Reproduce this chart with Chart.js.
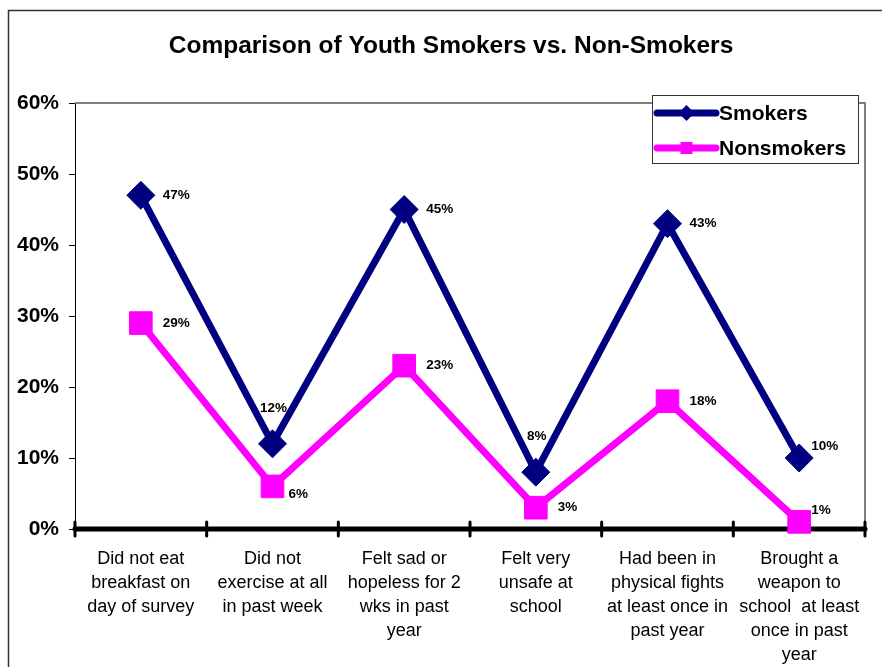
<!DOCTYPE html>
<html>
<head>
<meta charset="utf-8">
<script src="https://cdn.jsdelivr.net/npm/chart.js@4"></script>
<style>
  body { margin: 0; background: #fff; }
  canvas { display: block; }
</style>
</head>
<body>
<canvas id="smokeChart" width="882" height="667"></canvas>
<script>
const titleText = 'Comparison of Youth Smokers vs. Non-Smokers';
const categories = [
  ["Did not eat", "breakfast on", "day of survey"],
  ["Did not", "exercise at all", "in past week"],
  ["Felt sad or", "hopeless for 2", "wks in past", "year"],
  ["Felt very", "unsafe at", "school"],
  ["Had been in", "physical fights", "at least once in", "past year"],
  ["Brought a", "weapon to", "school  at least", "once in past", "year"]
];
const smokers = [47, 12, 45, 8, 43, 10];
const nonsmokers = [29, 6, 23, 3, 18, 1];
const yMin = 0, yMax = 60, yStep = 10;

// where each value label sits relative to its point
const smokerLabelPos = ["right", "above", "right", "above", "right", "upRight"];
const nonsmokerLabelPos = ["right", "downRight", "right", "right", "right", "upRight"];

const FONT = "Arial, 'Liberation Sans', sans-serif";

const framePlugin = {
  id: 'frame',
  beforeDraw(chart) {
    const ctx = chart.ctx;
    ctx.save();
    ctx.strokeStyle = '#333';
    ctx.lineWidth = 1.5;
    ctx.strokeRect(8.5, 10.5, chart.width + 20, chart.height + 20);
    // title
    ctx.fillStyle = '#000';
    ctx.font = 'bold 24.5px ' + FONT;
    ctx.textAlign = 'center';
    ctx.textBaseline = 'middle';
    ctx.fillText(titleText, chart.width / 2 + 10, 46);
    ctx.restore();
  },
  beforeDatasetsDraw(chart) {
    const ctx = chart.ctx;
    const a = chart.chartArea;
    ctx.save();
    // gray top + right edge of the plot
    ctx.strokeStyle = '#808080';
    ctx.lineWidth = 2;
    ctx.beginPath();
    ctx.moveTo(a.left, a.top);
    ctx.lineTo(a.right, a.top);
    ctx.lineTo(a.right, a.bottom);
    ctx.stroke();
    // thick category axis
    ctx.strokeStyle = '#000';
    ctx.lineCap = 'round';
    ctx.lineWidth = 5;
    ctx.beginPath();
    ctx.moveTo(a.left, a.bottom);
    ctx.lineTo(a.right, a.bottom);
    ctx.stroke();
    const n = categories.length;
    ctx.lineWidth = 3;
    for (let i = 0; i <= n; i++) {
      const x = a.left + i * (a.right - a.left) / n;
      ctx.beginPath();
      ctx.moveTo(x, a.bottom - 7);
      ctx.lineTo(x, a.bottom + 7);
      ctx.stroke();
    }
    ctx.restore();
  },
  afterDatasetsDraw(chart) {
    const ctx = chart.ctx;
    ctx.save();
    ctx.font = 'bold 13.5px ' + FONT;
    ctx.fillStyle = '#000';
    ctx.textBaseline = 'middle';
    chart.data.datasets.forEach((ds, di) => {
      const meta = chart.getDatasetMeta(di);
      meta.data.forEach((pt, i) => {
        const txt = ds.data[i] + '%';
        const pos = ds.labelPos[i];
        if (pos === 'above') {
          ctx.textAlign = 'center';
          ctx.fillText(txt, pt.x + 1, pt.y - 36);
        } else if (pos === 'upRight') {
          ctx.textAlign = 'left';
          ctx.fillText(txt, pt.x + 12, pt.y - 12);
        } else if (pos === 'downRight') {
          ctx.textAlign = 'left';
          ctx.fillText(txt, pt.x + 16, pt.y + 8);
        } else {
          ctx.textAlign = 'left';
          ctx.fillText(txt, pt.x + 22, pt.y);
        }
      });
    });
    ctx.restore();
  },
  afterDraw(chart) {
    // legend box
    const ctx = chart.ctx;
    const a = chart.chartArea;
    const bx = a.right - 213, by = a.top - 8, bw = 206, bh = 68;
    ctx.save();
    ctx.fillStyle = '#fff';
    ctx.fillRect(bx, by, bw, bh);
    ctx.strokeStyle = '#333';
    ctx.lineWidth = 1;
    ctx.strokeRect(bx + 0.5, by + 0.5, bw, bh);
    chart.data.datasets.forEach((ds, i) => {
      const cy = by + 18 + i * 35;
      const x0 = bx + 5, x1 = bx + 64, mx = (x0 + x1) / 2;
      ctx.strokeStyle = ds.borderColor;
      ctx.fillStyle = ds.borderColor;
      ctx.lineWidth = 7;
      ctx.lineCap = 'round';
      ctx.beginPath();
      ctx.moveTo(x0, cy);
      ctx.lineTo(x1, cy);
      ctx.stroke();
      ctx.beginPath();
      if (ds.pointStyle === 'rectRot') {
        ctx.moveTo(mx, cy - 8);
        ctx.lineTo(mx + 8, cy);
        ctx.lineTo(mx, cy + 8);
        ctx.lineTo(mx - 8, cy);
        ctx.closePath();
      } else {
        ctx.rect(mx - 6, cy - 6, 12, 12);
      }
      ctx.fill();
      ctx.fillStyle = '#000';
      ctx.font = 'bold 21px ' + FONT;
      ctx.textAlign = 'left';
      ctx.textBaseline = 'middle';
      ctx.fillText(ds.label, bx + 67, cy + 1);
    });
    ctx.restore();
  }
};

new Chart(document.getElementById('smokeChart').getContext('2d'), {
  type: 'line',
  data: {
    labels: categories,
    datasets: [
      {
        label: 'Smokers',
        data: smokers,
        labelPos: smokerLabelPos,
        borderColor: '#000080',
        backgroundColor: '#000080',
        borderWidth: 7,
        pointStyle: 'rectRot',
        pointRadius: 14,
        pointBorderWidth: 1,
        tension: 0,
        clip: false
      },
      {
        label: 'Nonsmokers',
        data: nonsmokers,
        labelPos: nonsmokerLabelPos,
        borderColor: '#FF00FF',
        backgroundColor: '#FF00FF',
        borderWidth: 7,
        pointStyle: 'rect',
        pointRadius: 16,
        pointBorderWidth: 1,
        tension: 0,
        clip: false
      }
    ]
  },
  options: {
    responsive: false,
    animation: false,
    devicePixelRatio: 1,
    layout: { padding: { left: 9, right: 11, top: 103, bottom: 0 } },
    plugins: {
      legend: { display: false },
      tooltip: { enabled: false },
      title: { display: false }
    },
    scales: {
      x: {
        offset: true,
        grid: { display: false },
        border: { display: false },
        ticks: {
          color: '#000',
          padding: 10,
          maxRotation: 0,
          autoSkip: false,
          font: { family: FONT, size: 18, lineHeight: 1.333 }
        },
        afterFit(scale) {
          scale.height = 138;
          scale.paddingLeft = 0;
          scale.paddingRight = 0;
        }
      },
      y: {
        min: yMin,
        max: yMax,
        grid: { drawOnChartArea: false, color: '#000', tickLength: 6, lineWidth: 1 },
        border: { display: true, color: '#000', width: 1 },
        ticks: {
          stepSize: yStep,
          color: '#000',
          padding: 10,
          font: { family: FONT, size: 21, weight: 'bold' },
          callback: v => v + '%'
        },
        afterFit(scale) { scale.width = 66; }
      }
    }
  },
  plugins: [framePlugin]
});
</script>
</body>
</html>
